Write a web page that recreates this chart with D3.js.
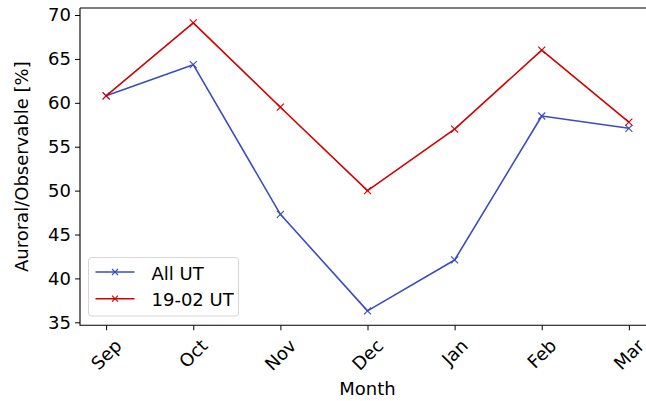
<!DOCTYPE html>
<html>
<head>
<meta charset="utf-8">
<script src="https://cdn.jsdelivr.net/npm/d3@7"></script>
<style>
  body { margin: 0; background: #fff; }
  text { font-family: "DejaVu Sans", sans-serif; fill: #000; }
</style>
</head>
<body>
<div id="chart"></div>
<script>
// Valori
const months = ["Sep", "Oct", "Nov", "Dec", "Jan", "Feb", "Mar"];
const allUT = [60.8, 64.35, 47.3, 36.3, 42.1, 58.5, 57.1];
const ut1902 = [60.8, 69.1, 59.5, 50.0, 57.0, 66.0, 57.8];
const yTicks = [35, 40, 45, 50, 55, 60, 65, 70];

const width = 646, height = 401;
const axLeft = 80, axRight = 655, axTop = 8, axBottom = 325.3;
const fs = 18;

const svg = d3.select("#chart").append("svg")
    .attr("width", width)
    .attr("height", height);

const x = d3.scaleLinear().domain([-0.3, months.length - 1 + 0.3]).range([axLeft, axRight]);
const y = d3.scaleLinear().domain([34.66, 70.8]).range([axBottom, axTop]);

const series = [
    { name: "All UT", values: allUT, color: "#3b4cc0" },
    { name: "19-02 UT", values: ut1902, color: "#d40000" }
];

// linee e marcatori
const line = d3.line().x((d, i) => x(i)).y(d => y(d));
series.forEach(s => {
    svg.append("path")
        .datum(s.values)
        .attr("d", line)
        .attr("fill", "none")
        .attr("stroke", s.color)
        .attr("stroke-width", 1.6)
        .attr("stroke-linejoin", "round");
    svg.selectAll(null)
        .data(s.values)
        .enter().append("path")
        .attr("d", "M-3.5,-3.5L3.5,3.5M-3.5,3.5L3.5,-3.5")
        .attr("transform", (d, i) => `translate(${x(i)},${y(d)})`)
        .attr("stroke", s.color)
        .attr("stroke-width", 1.1);
});

// assi
const yAxis = svg.append("g")
    .attr("transform", `translate(${axLeft},0)`)
    .call(d3.axisLeft(y).tickValues(yTicks).tickSize(5).tickPadding(4));
yAxis.select(".domain").remove();
yAxis.selectAll("text").style("font-size", fs + "px").attr("font-family", "DejaVu Sans");
yAxis.selectAll("line").attr("stroke", "#000");

const xAxis = svg.append("g")
    .attr("transform", `translate(0,${axBottom})`)
    .call(d3.axisBottom(x).tickValues(d3.range(months.length)).tickSize(5).tickFormat(""));
xAxis.select(".domain").remove();
xAxis.selectAll("line").attr("stroke", "#000");

// etichette ruotate di 45 gradi
months.forEach((m, i) => {
    const t = svg.append("text")
        .attr("text-anchor", "middle")
        .attr("dominant-baseline", "central")
        .style("font-size", fs + "px")
        .text(m);
    const w = t.node().getComputedTextLength();
    const h = fs * 0.95;
    const H = (w + h) * Math.SQRT1_2;
    const cy = axBottom + 11 + H / 2;
    t.attr("transform", `translate(${x(i)},${cy}) rotate(-45)`);
});

// cornice
svg.append("path")
    .attr("d", `M${axLeft},${axTop}H${axRight}M${axLeft},${axTop}V${axBottom}H${axRight}M${axRight},${axTop}V${axBottom}`)
    .attr("fill", "none")
    .attr("stroke", "#000")
    .attr("stroke-width", 1.1);

svg.append("text")
    .attr("x", (axLeft + axRight) / 2)
    .attr("y", 395)
    .attr("text-anchor", "middle")
    .style("font-size", fs + "px")
    .text("Month");

svg.append("text")
    .attr("transform", `translate(28,${(axTop + axBottom) / 2}) rotate(-90)`)
    .attr("text-anchor", "middle")
    .style("font-size", fs + "px")
    .text("Auroral/Observable [%]");

// legenda
const lg = svg.append("g").attr("transform", "translate(88.5,257.5)");
lg.append("rect")
    .attr("width", 150)
    .attr("height", 58.5)
    .attr("rx", 3)
    .attr("fill", "#fff")
    .attr("fill-opacity", 0.8)
    .attr("stroke", "#d6d6d6");
series.forEach((s, i) => {
    const yy = 14.5 + i * 26.7;
    lg.append("line")
        .attr("x1", 7).attr("x2", 46)
        .attr("y1", yy).attr("y2", yy)
        .attr("stroke", s.color)
        .attr("stroke-width", 1.6);
    lg.append("path")
        .attr("d", "M-3,-3L3,3M-3,3L3,-3")
        .attr("transform", `translate(26.5,${yy})`)
        .attr("stroke", s.color)
        .attr("stroke-width", 1.1);
    lg.append("text")
        .attr("x", 63)
        .attr("y", yy + 1)
        .attr("dominant-baseline", "central")
        .style("font-size", fs + "px")
        .text(s.name);
});
</script>
</body>
</html>
